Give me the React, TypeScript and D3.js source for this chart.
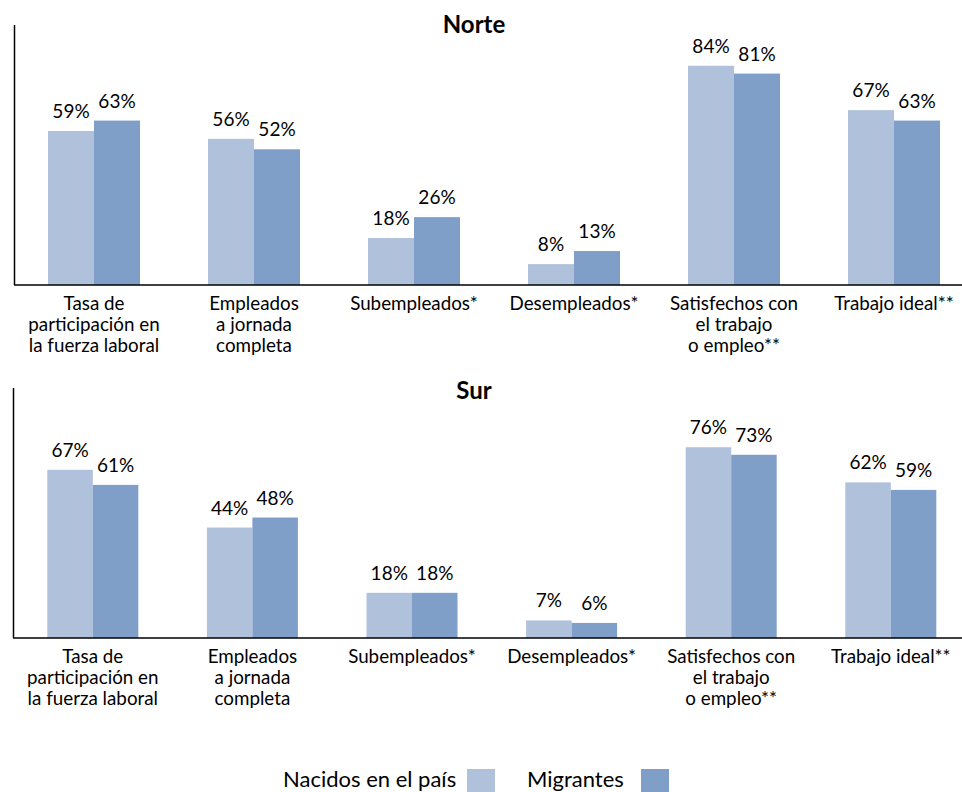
import React from "react";
import * as d3 from "d3";

const categories = [
  ["Tasa de", "participación en", "la fuerza laboral"],
  ["Empleados", "a jornada", "completa"],
  ["Subempleados*"],
  ["Desempleados*"],
  ["Satisfechos con", "el trabajo", "o empleo**"],
  ["Trabajo ideal**"],
];
const catKeys = categories.map((c) => c.join(" "));
const seriesNames = ["Nacidos en el país", "Migrantes"];
const norteNacidos = [59, 56, 18, 8, 84, 67];
const norteMigrantes = [63, 52, 26, 13, 81, 63];
const surNacidos = [67, 44, 18, 7, 76, 62];
const surMigrantes = [61, 48, 18, 6, 73, 59];
const colors = ["#b0c1dc", "#7f9fc8"];
const FONT = "Lato, 'Open Sans', sans-serif";

type PanelProps = {
  title: string;
  a: number[];
  b: number[];
  top: number;
  base: number;
  x0: number;
  x1: number;
  barW: number;
  titleY: number;
};

function Panel({ title, a, b, top, base, x0, x1, barW, titleY }: PanelProps) {
  const x = d3.scaleBand<string>().domain(catKeys).range([x0, x1]).padding(0);
  const y = d3.scaleLinear().domain([0, 100]).range([base, top]);
  const series = [a, b];
  return (
    <g>
      <text x={474} y={titleY} textAnchor="middle" fontFamily={FONT} fontWeight="bold" fontSize={24} fill="#000">
        {title}
      </text>
      {catKeys.map((k, i) => {
        const c = (x(k) as number) + x.bandwidth() / 2;
        return (
          <g key={k}>
            {series.map((s, j) => {
              const bx = c - barW + j * barW;
              return (
                <g key={j}>
                  <rect x={bx} y={y(s[i])} width={barW} height={base - y(s[i])} fill={colors[j]} />
                  <text x={bx + barW / 2} y={y(s[i]) - 13} textAnchor="middle" fontFamily={FONT} fontSize={19} fill="#000">
                    {s[i]}%
                  </text>
                </g>
              );
            })}
            {categories[i].map((line, li) => (
              <text key={li} x={c} y={base + 25 + li * 21} textAnchor="middle" fontFamily={FONT} fontSize={18.8} fill="#000">
                {line}
              </text>
            ))}
          </g>
        );
      })}
      <line x1={x0 + 0.5} x2={x0 + 0.5} y1={top + 1} y2={base} stroke="#000" strokeWidth={1.5} />
      <line x1={x0} x2={962} y1={base} y2={base} stroke="#000" strokeWidth={1.5} />
    </g>
  );
}

export default function App() {
  return (
    <div style={{ position: "absolute", left: 0, top: 0 }}>
      <svg width={962} height={792} style={{ display: "block", background: "#fff" }}>
        <Panel title="Norte" a={norteNacidos} b={norteMigrantes} top={24} base={285} x0={14} x1={974} barW={46} titleY={33} />
        <Panel title="Sur" a={surNacidos} b={surMigrantes} top={387} base={638} x0={13} x1={970.6} barW={45.5} titleY={399} />
        <g>
          <text x={283} y={787} fontFamily={FONT} fontSize={22} fill="#000">{seriesNames[0]}</text>
          <rect x={467} y={769} width={28} height={23} fill={colors[0]} />
          <text x={527} y={787} fontFamily={FONT} fontSize={22} fill="#000">{seriesNames[1]}</text>
          <rect x={641} y={769} width={28} height={23} fill={colors[1]} />
        </g>
      </svg>
    </div>
  );
}
